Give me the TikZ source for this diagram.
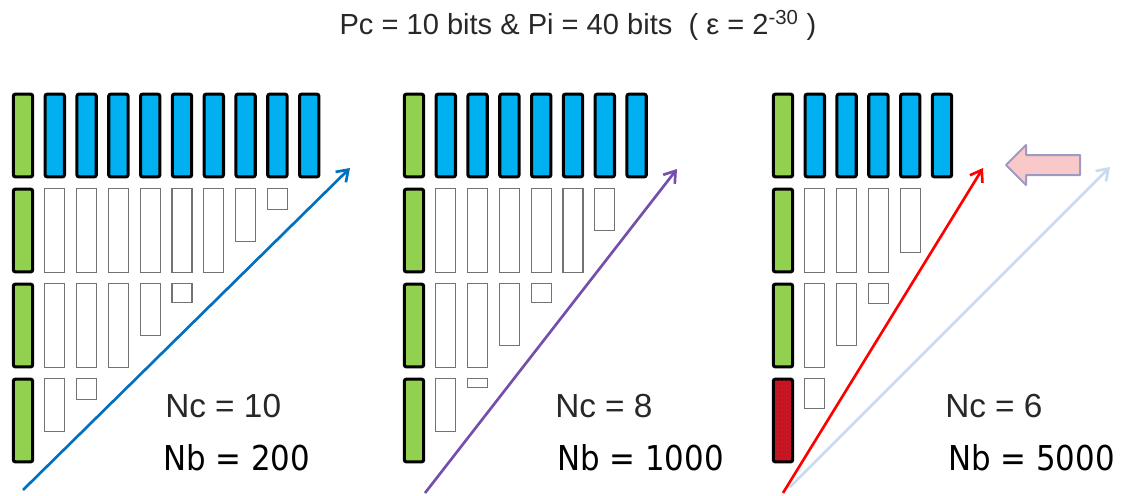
\documentclass[tikz,border=0pt]{standalone}
\usepackage{fontspec}
\setmainfont{Liberation Sans}
\newfontfamily\nbfam[FakeStretch=0.9]{DejaVu Sans}
\usepackage{tikz}
\usetikzlibrary{positioning, arrows.meta, patterns}
\definecolor{leaf}{RGB}{146,208,80}
\definecolor{sky}{RGB}{0,176,240}
\definecolor{brick}{RGB}{205,18,32}
\definecolor{ink}{RGB}{40,40,40}
\definecolor{bluearr}{RGB}{0,112,192}
\definecolor{plum}{RGB}{118,78,172}
\definecolor{ghost}{RGB}{200,218,240}
\definecolor{blush}{RGB}{249,200,200}
\definecolor{haze}{RGB}{155,155,195}
\newcommand{\ncfont}{\fontsize{25}{30}\selectfont}
\newcommand{\nbfont}{\nbfam\fontsize{25.7}{30}\selectfont}
\begin{document}
\begin{tikzpicture}[x=0.75pt, y=-0.75pt,
  grn/.style={draw=black, line width=2.3pt, rounded corners=1.5pt, fill=leaf, minimum width=14.5pt, minimum height=62pt, inner sep=0pt},
  cyn/.style={grn, fill=sky},
  hot/.style={grn, fill=brick, postaction={pattern=dots, pattern color=black!75}},
  wht/.style={draw=black!55, line width=0.9pt, fill=white, minimum width=15pt, inner sep=0pt, anchor=north},
  nc/.style={font=\ncfont, text=ink, anchor=base west, inner sep=0pt},
  nb/.style={font=\nbfont, text=black, anchor=base west, inner sep=0pt},
  arr/.style={line width=2pt, -{Straight Barb[length=8pt, width=11pt, line width=2pt]}}]
\useasboundingbox (0,0) rectangle (1122,496);
\node[font=\fontsize{21.8}{26}\selectfont, text=ink, anchor=base] (title) at (578,35)
  {Pc = 10 bits \& Pi = 40 bits\ \ ( ε = 2\textsuperscript{-30} )};
% Nc = 10
\foreach \r in {0,...,3} \node[grn] (ga\r) at (23,{135.5+95*\r}) {};
\foreach \k in {1,...,9} \node[cyn] (ca\k) at ({23+31.8*\k},135.5) {};
\foreach \k/\r/\h in {1/1/85,2/1/85,3/1/85,4/1/85,5/1/85,6/1/85,7/1/54,8/1/22,
  1/2/85,2/2/85,3/2/85,4/2/53,5/2/20,1/3/54,2/3/22}
  \node[wht, minimum height=\h*0.75pt-0.9pt] (wa\k\r) at ({23+31.8*\k},{93+95*\r}) {};
\coordinate (sa) at (23,490);
\coordinate (ea) at (350,168);
\draw[arr, bluearr] (sa) -- (ea);
\node[nc] (nca) at (165,417) {Nc = 10};
\node[nb] (nba) at (163,470) {Nb = 200};
% Nc = 8
\foreach \r in {0,...,3} \node[grn] (gb\r) at (414,{135.5+95*\r}) {};
\foreach \k in {1,...,7} \node[cyn] (cb\k) at ({414+31.8*\k},135.5) {};
\foreach \k/\r/\h in {1/1/85,2/1/85,3/1/85,4/1/85,5/1/85,6/1/43,
  1/2/85,2/2/85,3/2/63,4/2/20,1/3/54,2/3/10}
  \node[wht, minimum height=\h*0.75pt-0.9pt] (wb\k\r) at ({414+31.8*\k},{93+95*\r}) {};
\coordinate (sb) at (425,493);
\coordinate (eb) at (677,169);
\draw[arr, plum] (sb) -- (eb);
\node[nc] (ncb) at (555,417) {Nc = 8};
\node[nb] (nbb) at (557,470) {Nb = 1000};
% Nc = 6
\foreach \r in {0,...,2} \node[grn] (gc\r) at (783,{135.5+95*\r}) {};
\node[hot] (gc3) at (783,420.5) {};
\foreach \k in {1,...,5} \node[cyn] (cc\k) at ({783+31.8*\k},135.5) {};
\foreach \k/\r/\h in {1/1/85,2/1/85,3/1/85,4/1/65,
  1/2/85,2/2/63,3/2/21,1/3/31}
  \node[wht, minimum height=\h*0.75pt-0.9pt] (wc\k\r) at ({783+31.8*\k},{93+95*\r}) {};
\coordinate (sd) at (790,487);
\coordinate (ed) at (1110,167);
\draw[arr, ghost] (sd) -- (ed);
\coordinate (sc) at (783,493);
\coordinate (ec) at (983,168);
\draw[arr, red] (sc) -- (ec);
\draw[fill=blush, draw=haze, line width=1.5pt, line join=round]
  (1006,165) -- (1026,145) -- (1026,155) -- (1080,155) -- (1080,175) -- (1026,175) -- (1026,185) -- cycle;
\node[nc] (ncc) at (945,417) {Nc = 6};
\node[nb] (nbc) at (948,470) {Nb = 5000};
\end{tikzpicture}
\end{document}
